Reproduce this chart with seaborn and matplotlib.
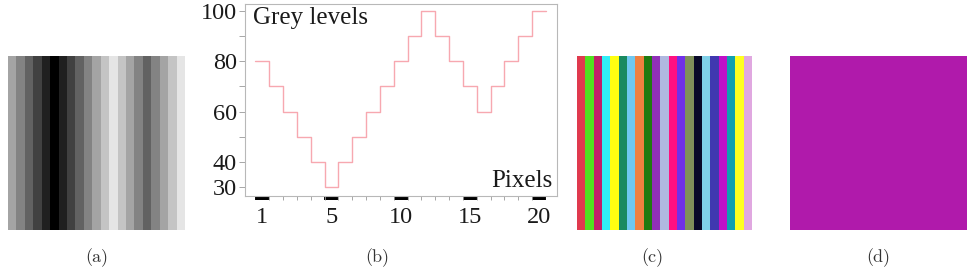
import numpy as np
import matplotlib
matplotlib.use("Agg")
import matplotlib.pyplot as plt
from matplotlib.colors import ListedColormap
from matplotlib.ticker import FixedLocator
import seaborn as sns

# ---- data ----
pixel_index = list(range(21))
grey_levels = [80, 70, 60, 50, 40, 30, 40, 50, 60, 70, 80, 90, 100, 90, 80, 70, 60, 70, 80, 90, 100]
x_tick_pos = [0, 5, 10, 15, 20]
x_tick_labels = ["1", "5", "10", "15", "20"]
y_tick_major = [30, 40, 60, 80, 100]
y_tick_minor = [50, 70, 90]
stripe_colors = ["#e03a4e", "#50e020", "#c0206a", "#30f0f8", "#ffff10", "#1a8a60",
                 "#70c8f0", "#f08040", "#207a10", "#9030b8", "#b0b8e0", "#ff1080",
                 "#7030e8", "#80905a", "#0a0a28", "#80d0e8", "#4038b0", "#c010c8",
                 "#10a0b0", "#ffff20", "#e0a8e0"]
mean_color = ["#b01aab"]
captions = ["(a)", "(b)", "(c)", "(d)"]

sns.set_style("white")
plt.rcParams["font.family"] = "serif"
plt.rcParams["font.serif"] = ["Liberation Serif", "DejaVu Serif"]

W, H = 979, 280
fig = plt.figure(figsize=(W / 100, H / 100), dpi=100)

def box(x0, y0, x1, y1):
    return [x0 / W, 1 - y1 / H, (x1 - x0) / W, (y1 - y0) / H]

# (a) grey stripes
axa = fig.add_axes(box(8, 56, 185, 230))
sns.heatmap(np.array(grey_levels)[None, :], cmap="gray", vmin=30, vmax=108,
            cbar=False, xticklabels=False, yticklabels=False, ax=axa)

# (b) step profile
axb = fig.add_axes(box(245, 4, 557, 196))
xs = np.append(np.array(pixel_index) - 0.5, pixel_index[-1] + 0.5)
ys = np.append(grey_levels, grey_levels[-1])
sns.lineplot(x=xs, y=ys, drawstyle="steps-post", color="#f7a8b0", linewidth=1.0,
             ax=axb, sort=False, estimator=None)
axb.set_xlim(-1.25, 21.3)
axb.set_ylim(26.6, 102.6)
axb.set_xticks(x_tick_pos)
axb.set_xticklabels(x_tick_labels)
axb.xaxis.set_minor_locator(FixedLocator(list(np.arange(0.5, 20, 1.0))))
axb.set_yticks(y_tick_major)
axb.set_yticklabels([str(v) for v in y_tick_major])
axb.yaxis.set_minor_locator(FixedLocator(y_tick_minor))
serif = ["Liberation Serif", "DejaVu Serif"]
for lab in axb.get_xticklabels() + axb.get_yticklabels():
    lab.set_fontfamily(serif)
    lab.set_fontsize(17.5)
    lab.set_color("#1a1a1a")
axb.tick_params(axis="x", which="major", length=3.2, width=10, color="black",
                direction="out", pad=5, bottom=True)
axb.tick_params(axis="x", which="minor", length=3, width=0.6, color="#999999",
                direction="out", bottom=True)
axb.tick_params(axis="y", which="both", length=4, width=0.6, color="#999999",
                direction="out", pad=2, left=True)
for sp in axb.spines.values():
    sp.set_color("#b8b8b8")
    sp.set_linewidth(0.8)
axb.set_xlabel("")
axb.set_ylabel("")
axb.text(0.025, 0.985, "Grey levels", transform=axb.transAxes, ha="left", va="top",
         fontfamily=serif, fontsize=18, color="#1a1a1a")
axb.text(0.985, 0.02, "Pixels", transform=axb.transAxes, ha="right", va="bottom",
         fontfamily=serif, fontsize=18, color="#1a1a1a")

# (c) colour stripes
axc = fig.add_axes(box(577, 56, 752, 230))
sns.heatmap(np.arange(len(stripe_colors))[None, :], cmap=ListedColormap(stripe_colors),
            cbar=False, xticklabels=False, yticklabels=False, ax=axc)

# (d) single colour
axd = fig.add_axes(box(790, 56, 967, 230))
sns.heatmap(np.zeros((1, 1)), cmap=ListedColormap(mean_color), cbar=False,
            xticklabels=False, yticklabels=False, ax=axd)

for cx, cap in zip([97, 377, 652, 878], captions):
    fig.text(cx / W, 1 - 258 / H, cap, ha="center", va="center",
             fontfamily="cmr10", fontsize=13, color="#333333")

fig.savefig("out.png", dpi=100)
